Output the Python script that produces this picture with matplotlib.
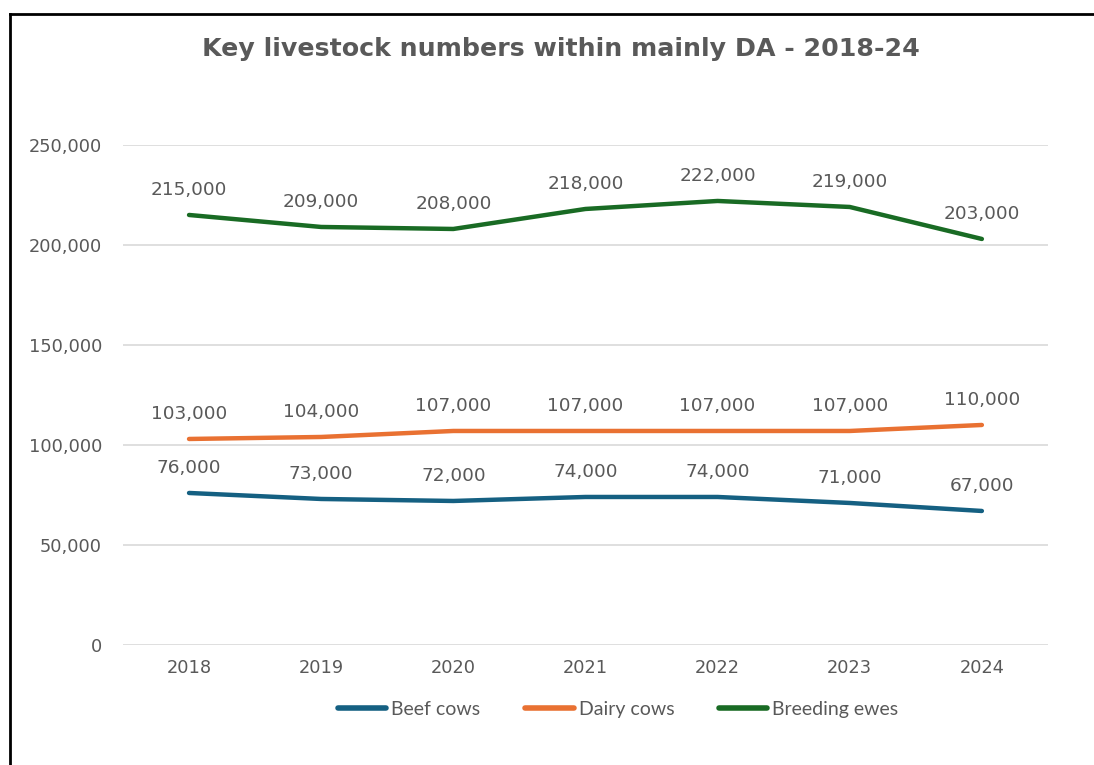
import matplotlib.pyplot as plt
from matplotlib.lines import Line2D
from matplotlib.ticker import FuncFormatter

years = ["2018", "2019", "2020", "2021", "2022", "2023", "2024"]
beef_cows = [76000, 73000, 72000, 74000, 74000, 71000, 67000]
dairy_cows = [103000, 104000, 107000, 107000, 107000, 107000, 110000]
breeding_ewes = [215000, 209000, 208000, 218000, 222000, 219000, 203000]

series = [
    ("Beef cows", beef_cows, "#156082"),
    ("Dairy cows", dairy_cows, "#E97132"),
    ("Breeding ewes", breeding_ewes, "#196B24"),
]

txt = "#595959"
plt.rcParams["font.family"] = ["DejaVu Sans"]

fig = plt.figure(figsize=(10.94, 7.65), dpi=100)
ax = fig.add_axes([0.1124, 0.1569, 0.8455, 0.6536])

x = list(range(len(years)))
for name, vals, col in series:
    ax.plot(x, vals, color=col, lw=3.2, solid_capstyle="round", label=name)
    for xi, v in zip(x, vals):
        ax.annotate(f"{v:,}", (xi, v), xytext=(0, 18), textcoords="offset points",
                    ha="center", va="center", fontsize=13.3, color=txt)

ax.set_xlim(-0.5, len(years) - 0.5)
ax.set_ylim(0, 250000)
ax.set_yticks(range(0, 250001, 50000))
ax.yaxis.set_major_formatter(FuncFormatter(lambda v, p: f"{int(v):,}"))
ax.set_xticks(x)
ax.set_xticklabels(years)
ax.grid(axis="y", color="#D9D9D9", lw=1.2)
ax.set_axisbelow(True)
for s in ax.spines.values():
    s.set_visible(False)
ax.tick_params(length=0, labelsize=12.8, colors=txt, pad=10)
ax.tick_params(axis="y", pad=15)

fig.text(0.513, 0.936, "Key livestock numbers within mainly DA - 2018-24",
         ha="center", va="center", fontsize=18.2, fontweight="bold", color=txt)

handles = [Line2D([0], [0], color=c, lw=4.0, solid_capstyle="round") for _, _, c in series]
fig.legend(handles, [n for n, _, _ in series], loc="center", bbox_to_anchor=(0.565, 0.073),
           ncol=3, frameon=False, labelcolor=txt, handlelength=2.5,
           handletextpad=0.25, columnspacing=2.3, prop={"family": ["Lato", "DejaVu Sans"], "size": 14})

# border lines (left and top) like the copied chart frame
fig.add_artist(Line2D([0.0095, 0.0095], [0.0, 0.9817], color="black", lw=2, transform=fig.transFigure))
fig.add_artist(Line2D([0.0095, 1.0], [0.9817, 0.9817], color="black", lw=2, transform=fig.transFigure))

fig.savefig("out.png", dpi=100)
